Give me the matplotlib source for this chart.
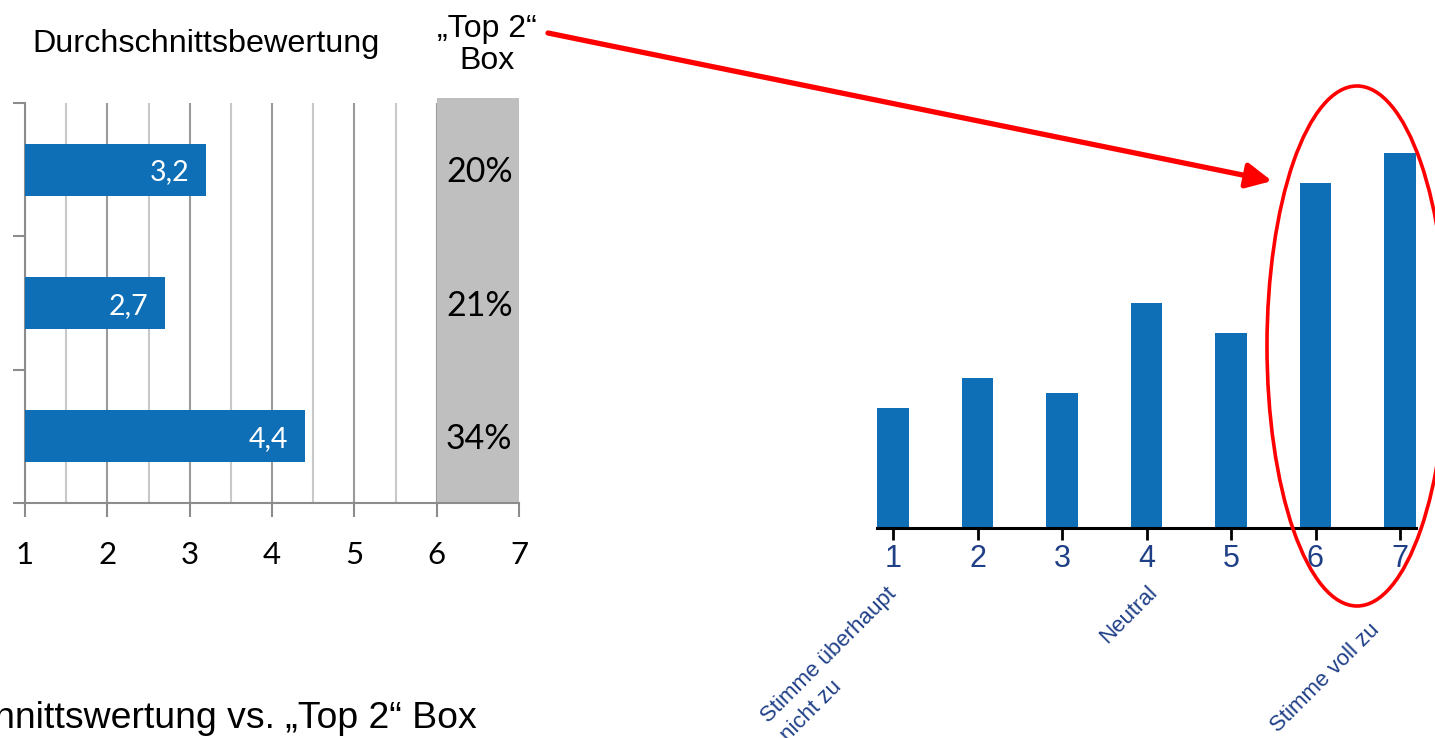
import matplotlib
matplotlib.use("Agg")
import matplotlib.pyplot as plt
import numpy as np
from matplotlib.patches import Ellipse, FancyArrowPatch, ArrowStyle

# ---------------- data ----------------
items = ["A", "B", "C"]
avg_rating = [3.2, 2.7, 4.4]
top2_share = [20, 21, 34]
scale_ticks = [1, 2, 3, 4, 5, 6, 7]

dist_cats = [1, 2, 3, 4, 5, 6, 7]
dist_values = [8, 10, 9, 15, 13, 23, 25]
dist_labels = {1: "Stimme überhaupt\nnicht zu", 4: "Neutral", 7: "Stimme voll zu"}

title_left = "Durchschnittsbewertung"
title_box = "„Top 2“\nBox"
caption = "Durchschnittswertung vs. „Top 2“ Box"

# ---------------- layout helpers ----------------
W, H = 1435, 738
fig = plt.figure(figsize=(W / 100, H / 100), dpi=100)


def fx(px):
    return px / W


def fy(py):
    return 1 - py / H


BLUE = "#0e6fb7"
GRAY_AX = "#8c8c8c"
DARKBLUE = "#1f3f87"
CAL = ["Lato", "DejaVu Sans"]
ARIAL = ["Liberation Sans", "DejaVu Sans"]
NARROW = ["Liberation Sans Narrow", "Liberation Sans", "DejaVu Sans"]

# ---------------- left chart ----------------
axl = fig.add_axes([fx(25), fy(503), (519 - 25) / W, (503 - 103) / H])
ypos = np.arange(len(items))
axl.barh(ypos, avg_rating, height=0.39, color=BLUE, zorder=3)
axl.set_xlim(1, 7)
axl.set_ylim(2.5, -0.5)
axl.set_axisbelow(True)

axl.set_xticks(scale_ticks)
axl.set_xticks(np.arange(1.5, 7, 1.0), minor=True)
axl.set_xticklabels([str(t) for t in scale_ticks], fontfamily=CAL, fontsize=22.5)
axl.set_yticks(np.arange(-0.5, 3, 1.0))
axl.set_yticklabels([])
axl.tick_params(axis="x", which="major", length=10, width=1.5, color=GRAY_AX,
                pad=17, labelcolor="black")
axl.tick_params(axis="x", which="minor", length=0)
axl.tick_params(axis="y", length=9, width=1.5, color=GRAY_AX)
axl.grid(axis="x", which="major", color="#9a9a9a", lw=1.5, zorder=0)
axl.grid(axis="x", which="minor", color="#c8c8c8", lw=1.5, zorder=0)
for s in ["top", "right"]:
    axl.spines[s].set_visible(False)
for s in ["left", "bottom"]:
    axl.spines[s].set_color(GRAY_AX)
    axl.spines[s].set_linewidth(1.5)

# grey "Top 2" box over scale points 6-7
axl.axvspan(6, 7, ymin=0, ymax=1.0125, color="#bfbfbf", zorder=1.5,
            clip_on=False, lw=0)

for y, v in zip(ypos, avg_rating):
    axl.annotate(f"{v:.1f}".replace(".", ","), xy=(v, y), xytext=(-12, -2),
                 textcoords="offset points", ha="right", va="center",
                 color="white", fontsize=20.5, fontfamily=CAL, zorder=4)
for y, p in zip(ypos, top2_share):
    axl.annotate(f"{p}%", xy=(6.5, y), xytext=(1, -2), textcoords="offset points",
                 ha="center", va="center", fontsize=24.5,
                 fontfamily=CAL, color="black", zorder=4)

fig.text(fx(206), fy(44), title_left, ha="center", va="center",
         fontsize=23.3, fontfamily=ARIAL)
fig.text(fx(487), fy(45), title_box, ha="center", va="center",
         fontsize=23, fontfamily=ARIAL, linespacing=1.08)
fig.text(fx(477), fy(718), caption, ha="right", va="center",
         fontsize=26.9, fontfamily=ARIAL)

# ---------------- right chart ----------------
bw = 0.37
step = (1400 - 893) / 6
left_px = 893 - (bw / 2) * step
right_px = 1400 + (bw / 2) * step
axr = fig.add_axes([fx(left_px), fy(528), (right_px - left_px) / W, (528 - 100) / H])
axr.bar(dist_cats, dist_values, width=bw, color=BLUE, zorder=2)
axr.set_xlim(dist_cats[0] - bw / 2, dist_cats[-1] + bw / 2)
axr.set_ylim(0, (528 - 100) / 15)
for s in ["top", "right", "left"]:
    axr.spines[s].set_visible(False)
axr.spines["bottom"].set_color("black")
axr.spines["bottom"].set_linewidth(2.2)
axr.set_yticks([])
axr.set_xticks(dist_cats)
axr.set_xticklabels([str(c) for c in dist_cats], fontfamily=NARROW,
                    fontsize=22, color=DARKBLUE)
axr.tick_params(axis="x", length=8.5, width=2, color="black", pad=3)

label_anchor = {1: (886, 583), 4: (1147, 582), 7: (1369, 619)}
for c, txt in dist_labels.items():
    px, py = label_anchor[c]
    fig.text(fx(px), fy(py), txt, rotation=45, rotation_mode="anchor",
             ha="right", va="top", multialignment="left", linespacing=1.4,
             fontsize=16, fontfamily=ARIAL, color=DARKBLUE)

# ---------------- annotations ----------------
ell = Ellipse((fx(1357), fy(346)), width=180 / W, height=520 / H,
              transform=fig.transFigure, fill=False, edgecolor="#ff0000",
              lw=2.6, zorder=10)
fig.add_artist(ell)

arrow = FancyArrowPatch((fx(548), fy(33)), (fx(1272), fy(181)),
                        transform=fig.transFigure,
                        arrowstyle=ArrowStyle("-|>", head_length=0.85, head_width=0.42),
                        mutation_scale=18, color="#ff0000", lw=3.8,
                        shrinkA=0, shrinkB=0, zorder=10)
fig.add_artist(arrow)

fig.savefig("out.png", dpi=100)
